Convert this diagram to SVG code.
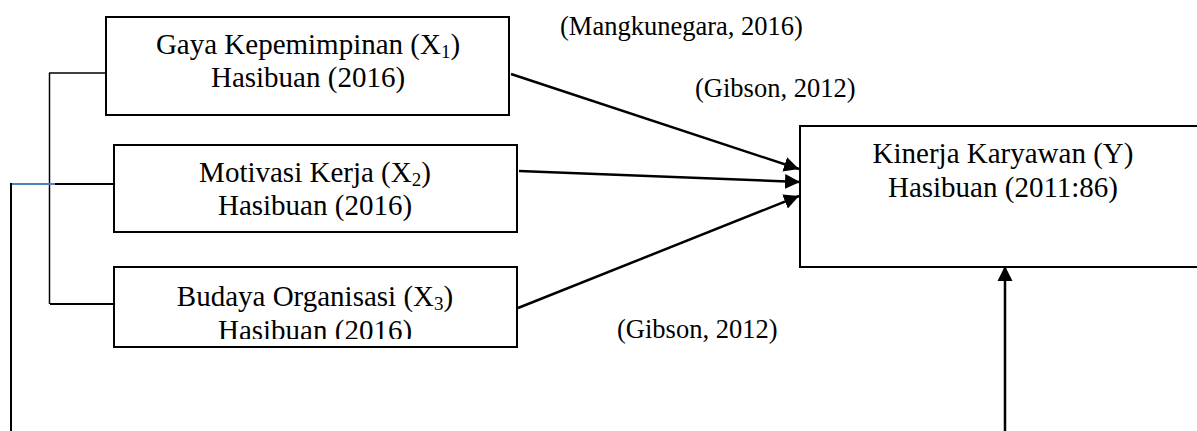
<svg xmlns="http://www.w3.org/2000/svg" width="1197" height="431" viewBox="0 0 1197 431">
<style>
  .box { fill: #fff; stroke: #000; stroke-width: 2; }
  .t { font-family: "Liberation Serif", "Times New Roman", serif; font-size: 29px; fill: #000; text-anchor: middle; }
  .lbl { font-family: "Liberation Serif", "Times New Roman", serif; font-size: 26.5px; fill: #000; }
  .sub { font-size: 19px; }
  .conn { stroke: #000; stroke-width: 2; fill: none; }
  .thin { stroke: #000; stroke-width: 1.5; fill: none; }
  .arr { stroke: #000; stroke-width: 2.5; fill: none; marker-end: url(#ah); }
</style>
<defs>
  <marker id="ah" markerUnits="userSpaceOnUse" markerWidth="16" markerHeight="16" refX="15" refY="7.5" orient="auto" viewBox="0 0 16 15">
    <path d="M0,0 L15,7.5 L0,15 z" fill="#000"/>
  </marker>
  <clipPath id="clip3"><rect x="114" y="267" width="403" height="72"/></clipPath>
</defs>
<rect width="1197" height="431" fill="#fff"/>

<g id="connectors">
  <line class="thin" x1="49.5" y1="73" x2="49.5" y2="304"/>
  <line class="thin" x1="49" y1="73" x2="108" y2="73"/>
  <line class="conn" x1="54" y1="184" x2="114" y2="184"/>
  <line x1="10" y1="184" x2="55" y2="184" stroke="#4F81BD" stroke-width="2"/>
  <line class="conn" x1="50" y1="304" x2="114" y2="304"/>
  <line class="conn" x1="11" y1="183" x2="11" y2="431"/>
  <line class="arr" x1="511" y1="74" x2="799" y2="169"/>
  <line class="arr" x1="519" y1="171" x2="800" y2="182"/>
  <line class="arr" x1="518" y1="308" x2="799" y2="196"/>
  <line class="arr" x1="1005" y1="431" x2="1005" y2="266"/>
</g>

<g id="node-x1">
  <rect class="box" x="106" y="17" width="403" height="98"/>
  <text class="t" x="308" y="54">Gaya Kepemimpinan (X<tspan class="sub" dy="4">1</tspan><tspan dy="-4">)</tspan></text>
  <text class="t" x="308" y="87">Hasibuan (2016)</text>
</g>

<g id="node-x2">
  <rect class="box" x="114" y="145" width="403" height="87"/>
  <text class="t" x="315" y="182">Motivasi Kerja (X<tspan class="sub" dy="4">2</tspan><tspan dy="-4">)</tspan></text>
  <text class="t" x="315" y="215">Hasibuan (2016)</text>
</g>

<g id="node-x3">
  <rect class="box" x="114" y="267" width="403" height="80"/>
  <g clip-path="url(#clip3)">
    <text class="t" x="315" y="306">Budaya Organisasi (X<tspan class="sub" dy="4">3</tspan><tspan dy="-4">)</tspan></text>
    <text class="t" x="315" y="340">Hasibuan (2016)</text>
  </g>
</g>

<g id="node-y">
  <rect class="box" x="800" y="126" width="410" height="141"/>
  <text class="t" x="1003" y="163">Kinerja Karyawan (Y)</text>
  <text class="t" x="1003" y="197">Hasibuan (2011:86)</text>
</g>

<g id="labels">
  <text class="lbl" x="560" y="35">(Mangkunegara, 2016)</text>
  <text class="lbl" x="695" y="97">(Gibson, 2012)</text>
  <text class="lbl" x="617" y="338">(Gibson, 2012)</text>
</g>
</svg>
